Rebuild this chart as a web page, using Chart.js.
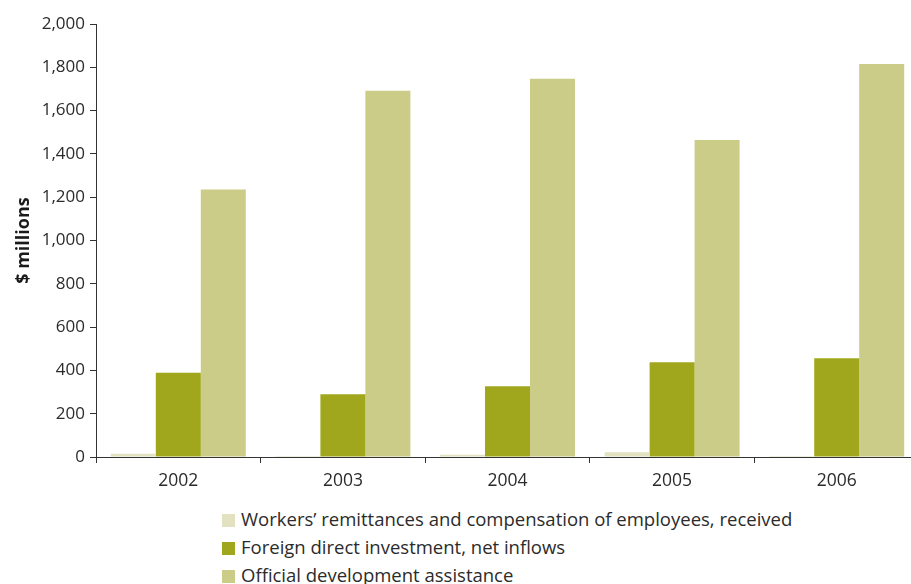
<!DOCTYPE html>
<html>
<head>
<meta charset="utf-8">
<script src="https://cdn.jsdelivr.net/npm/chart.js@4.4.1/dist/chart.umd.min.js"></script>
<style>
  html, body { margin: 0; padding: 0; background: #fff; overflow: hidden; }
  #wrap { position: relative; width: 911px; height: 584px; overflow: hidden; }
  #box { position: absolute; left: 0; top: 0; width: 920px; height: 500px; }
  #legend { position: absolute; left: 222px; top: 505px; font-family: "Open Sans", sans-serif; font-size: 18.5px; color: #2b2b2b; }
  #legend div { height: 28px; line-height: 28px; white-space: nowrap; }
  #legend span { display: inline-block; width: 13px; height: 13px; margin-right: 6px; vertical-align: -1px; }
</style>
</head>
<body>
<div id="wrap">
  <div id="box"><canvas id="flowChart"></canvas></div>
  <div id="legend"></div>
</div>
<script>
const years = ["2002", "2003", "2004", "2005", "2006"];
const remittances = [15, 5, 10, 22, 5];
const fdiInflows = [389, 290, 327, 438, 456];
const odaValues = [1235, 1692, 1747, 1464, 1815];

const seriesNames = [
  "Workers\u2019 remittances and compensation of employees, received",
  "Foreign direct investment, net inflows",
  "Official development assistance",
];
const seriesColors = ["#e2e2c1", "#a1a71c", "#cbcc88"];

const axisColor = "#333333";
const textColor = "#2b2b2b";
const fontFamily = "'Open Sans', sans-serif";

const ctx = document.getElementById("flowChart").getContext("2d");
const chart = new Chart(ctx, {
  type: "bar",
  data: {
    labels: years,
    datasets: [remittances, fdiInflows, odaValues].map((values, i) => ({
      label: seriesNames[i],
      data: values,
      backgroundColor: seriesColors[i],
      borderWidth: 0,
      barPercentage: 1.0,
      categoryPercentage: 0.82,
    })),
  },
  options: {
    responsive: true,
    maintainAspectRatio: false,
    animation: false,
    layout: { padding: { top: 24, right: 1, left: 0, bottom: 0 } },
    plugins: {
      legend: { display: false },
      tooltip: { enabled: false },
    },
    scales: {
      x: {
        grid: {
          display: true,
          drawOnChartArea: false,
          drawTicks: true,
          tickLength: 6,
          color: axisColor,
          offset: true,
        },
        border: { display: true, color: axisColor, width: 1 },
        ticks: {
          color: textColor,
          font: { family: fontFamily, size: 17.5 },
          padding: 8,
        },
        afterFit: (scale) => { scale.height = 43; },
      },
      y: {
        min: 0,
        max: 2000,
        grid: {
          display: true,
          drawOnChartArea: false,
          drawTicks: true,
          tickLength: 6,
          color: axisColor,
        },
        border: { display: true, color: axisColor, width: 1 },
        ticks: {
          stepSize: 200,
          color: textColor,
          font: { family: fontFamily, size: 17 },
          padding: 5,
          callback: (v) => v.toLocaleString("en-US"),
        },
        title: {
          display: true,
          text: "$ millions",
          color: "#1a1a1a",
          font: { family: fontFamily, size: 18, weight: "bold" },
          padding: { top: 13, bottom: 0 },
        },
        afterFit: (scale) => { scale.width = 96; },
      },
    },
  },
});

// legend drawn as a left-aligned column below the plot
const legendEl = document.getElementById("legend");
chart.data.datasets.forEach((ds) => {
  const row = document.createElement("div");
  const sw = document.createElement("span");
  sw.style.background = ds.backgroundColor;
  row.appendChild(sw);
  row.appendChild(document.createTextNode(ds.label));
  legendEl.appendChild(row);
});
</script>
</body>
</html>
